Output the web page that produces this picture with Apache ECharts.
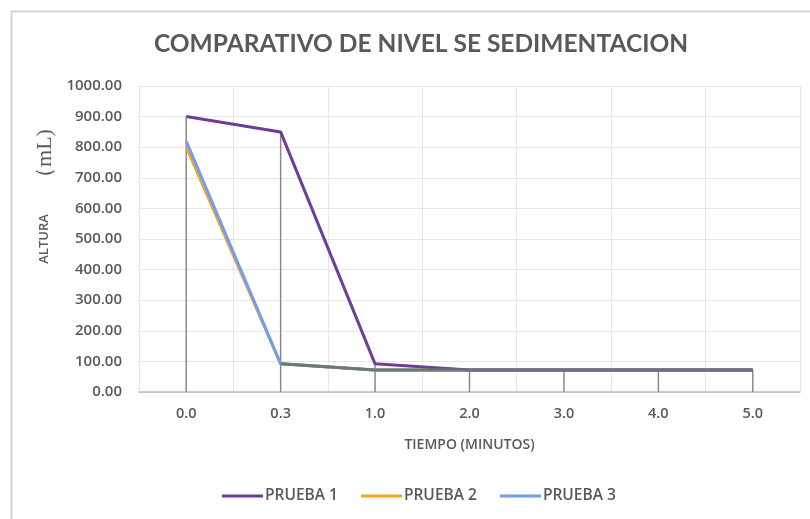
<!DOCTYPE html>
<html>
<head>
<meta charset="utf-8">
<script src="https://cdn.jsdelivr.net/npm/echarts@6/dist/echarts.min.js"></script>
<style>html,body{margin:0;padding:0;background:#fff;}#c{width:810px;height:519px;}</style>
</head>
<body>
<div id="c"></div>
<script>
const categories = ['0.0', '0.3', '1.0', '2.0', '3.0', '4.0', '5.0'];
const prueba1 = [900, 850, 92, 72, 72, 72, 72];
const prueba2 = [800, 92, 72, 72, 72, 72, 72];
const prueba3 = [820, 92, 72, 72, 72, 72, 72];
const overlap = [null, 92, 72, 72, 72, 72, 72];
const yTicks = { min: 0, max: 1000, interval: 100 };

const dropLines = categories.map((c, i) => Math.max(prueba1[i], prueba2[i], prueba3[i]));
const txt = '#595959';
const font = 'Open Sans';

const chart = echarts.init(document.getElementById('c'));
chart.setOption({
  backgroundColor: '#fff',
  animation: false,
  title: {
    text: 'COMPARATIVO DE NIVEL SE SEDIMENTACION',
    left: 416, top: 27, textAlign: 'center',
    textStyle: { fontFamily: 'Lato', fontWeight: 'bold', fontSize: 24.5, color: txt }
  },
  graphic: [
    { type: 'rect', shape: { x: 11.5, y: 11.5, width: 900, height: 600 }, style: { fill: 'none', stroke: '#d4d4d4', lineWidth: 2 }, silent: true },
    { type: 'text', x: 45, y: 159, rotation: Math.PI / 2,
      style: { text: '（mL)', fontFamily: 'Liberation Serif', fontSize: 22, fill: txt, align: 'center', verticalAlign: 'middle' } }
  ],
  legend: {
    left: 217, top: 483,
    itemWidth: 41, itemHeight: 3, itemGap: 23,
    icon: 'rect',
    textStyle: { fontFamily: font, fontSize: 15.5, color: txt, fontWeight: 600, padding: [0, 0, 0, -3] },
    data: ['PRUEBA 1', 'PRUEBA 2', 'PRUEBA 3']
  },
  grid: { left: 139, right: 10, top: 86, bottom: 127, containLabel: false },
  xAxis: {
    type: 'category', data: categories, boundaryGap: true,
    name: 'TIEMPO (MINUTOS)', nameLocation: 'middle', nameGap: 46,
    nameTextStyle: { fontFamily: font, fontSize: 14, color: txt, fontWeight: 600 },
    axisLine: { lineStyle: { color: '#bfbfbf', width: 1.5 } },
    axisTick: { show: false },
    axisLabel: { fontFamily: font, fontSize: 14.5, color: txt, fontWeight: 600, margin: 14 },
    splitLine: { show: true, interval: 0, lineStyle: { color: '#e6e6e6', width: 1 } }
  },
  yAxis: {
    type: 'value', min: yTicks.min, max: yTicks.max, interval: yTicks.interval,
    name: 'ALTURA', nameLocation: 'middle', nameRotate: 90, nameGap: 88,
    nameTextStyle: { fontFamily: font, fontSize: 13, color: txt, fontWeight: 600 },
    axisLine: { show: false }, axisTick: { show: false },
    axisLabel: { fontFamily: font, fontSize: 15, color: txt, fontWeight: 600, margin: 17,
      formatter: v => v.toFixed(2) },
    splitLine: { lineStyle: { color: '#e6e6e6', width: 1 } }
  },
  series: [
    { name: 'drop', type: 'bar', data: dropLines, barWidth: 1.5, itemStyle: { color: '#8a8a8a' }, z: 1, silent: true },
    { name: 'PRUEBA 2', type: 'line', data: prueba2, symbol: 'none', lineStyle: { width: 3, color: '#f5a623' }, itemStyle: { color: '#f5a623' }, z: 3 },
    { name: 'PRUEBA 3', type: 'line', data: prueba3, symbol: 'none', lineStyle: { width: 3, color: '#739cf2' }, itemStyle: { color: '#739cf2' }, z: 4 },
    { name: 'PRUEBA 1', type: 'line', data: prueba1, symbol: 'none', lineStyle: { width: 3, color: '#6f3d96' }, itemStyle: { color: '#6f3d96' }, z: 5 },
    { name: 'overlap', type: 'line', data: overlap, symbol: 'none', lineStyle: { width: 3, color: '#6b7a6e' }, z: 6, silent: true }
  ]
});
</script>
</body>
</html>
